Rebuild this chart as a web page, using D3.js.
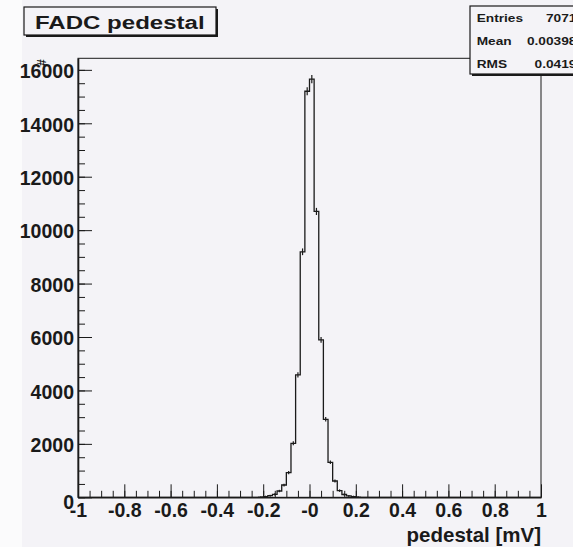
<!DOCTYPE html>
<html>
<head>
<meta charset="utf-8">
<script src="https://cdn.jsdelivr.net/npm/d3@7"></script>
<style>
  body { margin: 0; background: #fff; }
  svg { display: block; font-family: "Liberation Sans", Arial, sans-serif; font-weight: bold; }
</style>
</head>
<body>
<div id="chart"></div>
<script>
// histogram: low edge of every non-empty bin (width 0.02) and its content
var binLow = [-0.22, -0.2, -0.18, -0.16, -0.14, -0.12, -0.1, -0.08, -0.06, -0.04, -0.02,
              0, 0.02, 0.04, 0.06, 0.08, 0.1, 0.12, 0.14, 0.16, 0.18, 0.2];
var counts = [10, 25, 60, 112, 235, 460, 920, 2020, 4580, 9190, 15200,
              15650, 10700, 5890, 2920, 1310, 610, 250, 105, 50, 25, 10];
var nBins = 100, xMin = -1, xMax = 1;

// axis ticks and labels
var xTicks = [-1, -0.8, -0.6, -0.4, -0.2, 0, 0.2, 0.4, 0.6, 0.8, 1];
var xTickLabels = ["-1", "-0.8", "-0.6", "-0.4", "-0.2", "-0", "0.2", "0.4", "0.6", "0.8", "1"];
var yTicks = [0, 2000, 4000, 6000, 8000, 10000, 12000, 14000, 16000];

// stats box
var statNames = ["Entries", "Mean", "RMS"];
var statValues = ["70710", "0.003985", "0.04193"];

var title = "FADC pedestal";
var xTitle = "pedestal [mV]";
var yTitle = "#";

var W = 573, H = 547;
var frame = { left: 78, right: 541, top: 58.3, bottom: 497.3 };
var bg = "#f4f3f7", ink = "#1a1a1a";

var svg = d3.select("#chart").append("svg")
  .attr("width", W).attr("height", H);

// canvas
svg.append("rect").attr("width", W).attr("height", H).attr("fill", bg);
svg.append("rect").attr("width", 22).attr("height", H).attr("fill", "#fbfbfc");

// scales (ROOT puts the max at 1.05 of the highest bin)
var binW = (xMax - xMin) / nBins;
var x = d3.scaleLinear().domain([xMin, xMax]).range([frame.left, frame.right]);
var y = d3.scaleLinear().domain([0, 1.05 * d3.max(counts)]).range([frame.bottom, frame.top]);

// full bin list
var bins = d3.range(nBins).map(function(i) {
  return { lo: xMin + i * binW, c: 0 };
});
binLow.forEach(function(lo, i) {
  bins[Math.round((lo - xMin) / binW)].c = counts[i];
});

// frame
svg.append("rect")
  .attr("x", frame.left).attr("y", frame.top)
  .attr("width", frame.right - frame.left).attr("height", frame.bottom - frame.top)
  .attr("fill", bg).attr("stroke", ink).attr("stroke-width", 1);

// minor ticks
svg.append("g")
  .attr("transform", "translate(0," + frame.bottom + ")")
  .call(d3.axisBottom(x).tickValues(d3.range(-20, 21).map(function(k) { return k * 0.05; }))
    .tickSizeInner(-6.5).tickSizeOuter(0).tickFormat(""))
  .call(function(g) { g.select(".domain").remove(); });
svg.append("g")
  .attr("transform", "translate(" + frame.left + ",0)")
  .call(d3.axisLeft(y).tickValues(d3.range(0, 16001, 500))
    .tickSizeInner(-7).tickSizeOuter(0).tickFormat(""))
  .call(function(g) { g.select(".domain").remove(); });

// major ticks + labels
var xAxis = svg.append("g")
  .attr("transform", "translate(0," + frame.bottom + ")")
  .call(d3.axisBottom(x).tickValues(xTicks)
    .tickSizeInner(-13).tickSizeOuter(0).tickPadding(5.6)
    .tickFormat(function(d, i) { return xTickLabels[i]; }));
var yAxis = svg.append("g")
  .attr("transform", "translate(" + frame.left + ",0)")
  .call(d3.axisLeft(y).tickValues(yTicks)
    .tickSizeInner(-14).tickSizeOuter(0).tickPadding(4)
    .tickFormat(d3.format("d")));

svg.selectAll(".tick line").attr("stroke", ink);
svg.selectAll(".domain").attr("stroke", ink).attr("stroke-width", 1.6);
xAxis.selectAll("text").attr("font-size", 19.5).attr("font-family", null).attr("fill", ink);
yAxis.selectAll("text").attr("font-size", 19.5).attr("font-family", null).attr("fill", ink)
  .attr("dy", function(d) { return d === 0 ? "0.55em" : "0.4em"; });

// histogram outline
var line = d3.line()
  .x(function(d) { return x(d.lo); })
  .y(function(d) { return y(d.c); })
  .curve(d3.curveStepAfter);
svg.append("path")
  .datum(bins.concat([{ lo: xMax, c: 0 }]))
  .attr("d", line)
  .attr("fill", "none").attr("stroke", ink).attr("stroke-width", 1.3);

// error bars
svg.append("g").selectAll("line")
  .data(bins.filter(function(d) { return d.c > 0; }))
  .enter().append("line")
  .attr("x1", function(d) { return x(d.lo + binW / 2); })
  .attr("x2", function(d) { return x(d.lo + binW / 2); })
  .attr("y1", function(d) { return y(d.c - Math.sqrt(d.c)) + 0.8; })
  .attr("y2", function(d) { return y(d.c + Math.sqrt(d.c)) - 0.8; })
  .attr("stroke", ink).attr("stroke-width", 1.2);

// axis titles
svg.append("text")
  .attr("x", frame.right).attr("y", 541.7)
  .attr("text-anchor", "end").attr("font-size", 20.5).attr("fill", ink)
  .text(xTitle);
svg.append("text")
  .attr("transform", "translate(46," + (frame.top + 1) + ") rotate(-90)")
  .attr("text-anchor", "end").attr("font-size", 12).attr("fill", ink)
  .text(yTitle);

// stretched text helper (the original fonts are wider than they are tall)
function wideText(g, tx, ty, sx, size, anchor, str) {
  return g.append("text")
    .attr("transform", "translate(" + tx + "," + ty + ") scale(" + sx + ",1)")
    .attr("text-anchor", anchor).attr("font-size", size).attr("fill", ink)
    .text(str);
}

// title box
svg.append("rect").attr("x", 26).attr("y", 9).attr("width", 192).attr("height", 28).attr("fill", ink);
svg.append("rect").attr("x", 24).attr("y", 7).attr("width", 192).attr("height", 28)
  .attr("fill", bg).attr("stroke", ink).attr("stroke-width", 1.2);
wideText(svg, 35, 29.3, 1.3, 18.5, "start", title);

// stats box
var sb = svg.append("g");
sb.append("rect").attr("x", 472).attr("y", 8).attr("width", 130).attr("height", 68).attr("fill", ink);
sb.append("rect").attr("x", 470).attr("y", 6).attr("width", 130).attr("height", 68)
  .attr("fill", bg).attr("stroke", ink).attr("stroke-width", 1.2);
statNames.forEach(function(n, i) {
  var by = 22.3 + i * 23;
  wideText(sb, 476.7, by, 1.16, 11.8, "start", n);
  wideText(sb, 584, by, 1.16, 11.8, "end", statValues[i]);
});
</script>
</body>
</html>
